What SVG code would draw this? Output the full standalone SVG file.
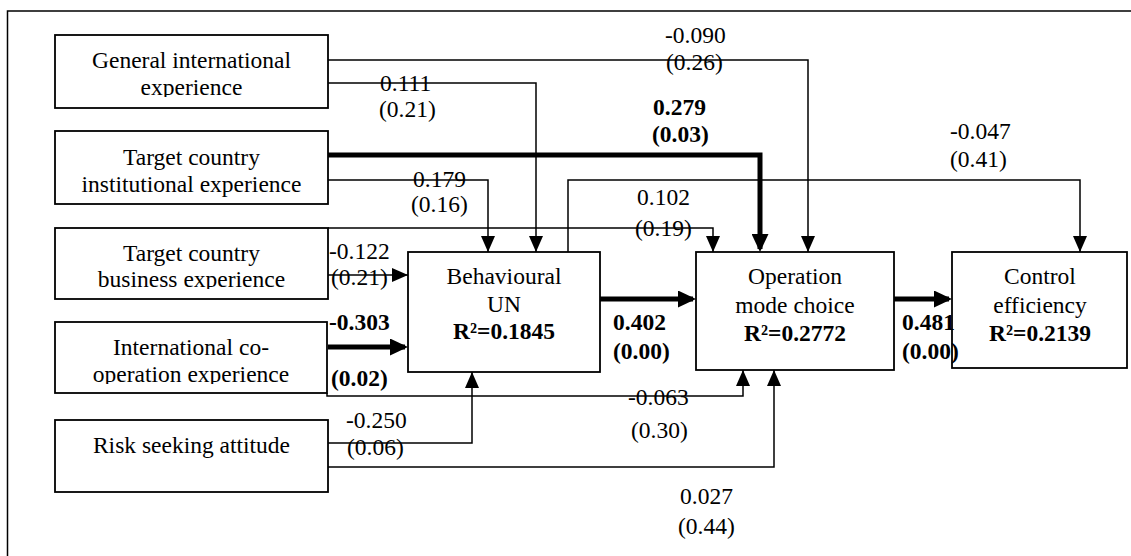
<svg xmlns="http://www.w3.org/2000/svg" width="1131" height="556" viewBox="0 0 1131 556" font-family="'Liberation Serif', Tinos, 'Times New Roman', 'DejaVu Serif', serif">
<style>
text{font-family:'Liberation Serif',Tinos,'Times New Roman','DejaVu Serif',serif;font-size:23.5px;fill:#000}
.b{font-weight:bold}
.m{text-anchor:middle}
.box{fill:#fff;stroke:#000;stroke-width:1.8}
.c{fill:none;stroke:#000;stroke-width:1.5}
.t{fill:none;stroke:#000;stroke-width:5}
</style>
<defs>
<marker id="a" viewBox="0 0 16 14" refX="16" refY="7" markerWidth="16" markerHeight="14" markerUnits="userSpaceOnUse" orient="auto"><path d="M0,0 L16,7 L0,14 z" fill="#000"/></marker>
<marker id="A" viewBox="0 0 18 17" refX="15" refY="8.5" markerWidth="18" markerHeight="17" markerUnits="userSpaceOnUse" orient="auto"><path d="M0,0 L18,8.5 L0,17 z" fill="#000"/></marker>
<clipPath id="k1"><rect x="55" y="35" width="273" height="62"/></clipPath>
<clipPath id="k3"><rect x="55" y="228" width="273" height="61"/></clipPath>
<clipPath id="k4"><rect x="55" y="322" width="272" height="62"/></clipPath>
</defs>
<rect width="1131" height="556" fill="#fff"/>
<path d="M7.5,556 V11 H1131" fill="none" stroke="#000" stroke-width="1.5"/>

<g id="connectors">
<path class="c" d="M328,60 H808 V252" marker-end="url(#a)"/>
<path class="c" d="M328,83 H536 V252" marker-end="url(#a)"/>
<path class="t" d="M328,155 H760 V249" marker-end="url(#A)"/>
<path class="c" d="M328,180 H488 V252" marker-end="url(#a)"/>
<path class="c" d="M568,252 V180 H1080 V252" marker-end="url(#a)"/>
<path class="c" d="M328,228 H713 V252" marker-end="url(#a)"/>
<path class="c" d="M328,275 H408" marker-end="url(#a)"/>
<path class="t" d="M328,347 H405" marker-end="url(#A)"/>
<path class="t" d="M600,299 H693" marker-end="url(#A)"/>
<path class="t" d="M888,299 H949" marker-end="url(#A)"/>
<path class="c" d="M327,393 V396 H743 V370" marker-end="url(#a)"/>
<path class="c" d="M328,443 H472 V372" marker-end="url(#a)"/>
<path class="c" d="M328,467 H774 V370" marker-end="url(#a)"/>
</g>

<g id="n1"><rect class="box" x="55" y="35" width="273" height="73"/>
<g clip-path="url(#k1)"><text class="m" x="191.5" y="68">General international</text><text class="m" x="191.5" y="95">experience</text></g></g>
<g id="n2"><rect class="box" x="55" y="131" width="273" height="73"/>
<text class="m" x="191.5" y="165">Target country</text><text class="m" x="191.5" y="192">institutional experience</text></g>
<g id="n3"><rect class="box" x="55" y="228" width="273" height="71"/>
<g clip-path="url(#k3)"><text class="m" x="191.5" y="261">Target country</text><text class="m" x="191.5" y="287">business experience</text></g></g>
<g id="n4"><rect class="box" x="55" y="322" width="272" height="71"/>
<g clip-path="url(#k4)"><text class="m" x="191" y="355">International co-</text><text class="m" x="191" y="382">operation experience</text></g></g>
<g id="n5"><rect class="box" x="55" y="420" width="273" height="72"/>
<text class="m" x="191.5" y="453">Risk seeking attitude</text></g>
<g id="n6"><rect class="box" x="408" y="252" width="192" height="120"/>
<text class="m" x="504" y="284">Behavioural</text><text class="m" x="504" y="312">UN</text><text class="m b" x="504" y="339">R²=0.1845</text></g>
<g id="n7"><rect class="box" x="696" y="252" width="198" height="118"/>
<text class="m" x="795" y="284">Operation</text><text class="m" x="795" y="313">mode choice</text><text class="m b" x="795" y="341">R²=0.2772</text></g>
<g id="n8"><rect class="box" x="952" y="252" width="175" height="116"/>
<text class="m" x="1040" y="284">Control</text><text class="m" x="1040" y="313">efficiency</text><text class="m b" x="1040" y="341">R²=0.2139</text></g>

<g id="labels">
<text x="665" y="43">-0.090</text><text x="666" y="70">(0.26)</text>
<text x="380" y="91">0.111</text><text x="379" y="117">(0.21)</text>
<text class="b" x="653" y="115">0.279</text><text class="b" x="652" y="142">(0.03)</text>
<text x="413" y="187">0.179</text><text x="411" y="212">(0.16)</text>
<text x="637" y="205">0.102</text><text x="635" y="236">(0.19)</text>
<text x="950" y="139">-0.047</text><text x="950" y="167">(0.41)</text>
<text x="329" y="259">-0.122</text><text x="331" y="285">(0.21)</text>
<text class="b" x="329" y="330">-0.303</text><text class="b" x="331" y="386">(0.02)</text>
<text class="b" x="613" y="330">0.402</text><text class="b" x="613" y="359">(0.00)</text>
<text class="b" x="902" y="330">0.481</text><text class="b" x="902" y="359">(0.00)</text>
<text x="346" y="428">-0.250</text><text x="347" y="455">(0.06)</text>
<text x="628" y="405">-0.063</text><text x="631" y="438">(0.30)</text>
<text x="680" y="504">0.027</text><text x="678" y="534">(0.44)</text>
</g>
</svg>
